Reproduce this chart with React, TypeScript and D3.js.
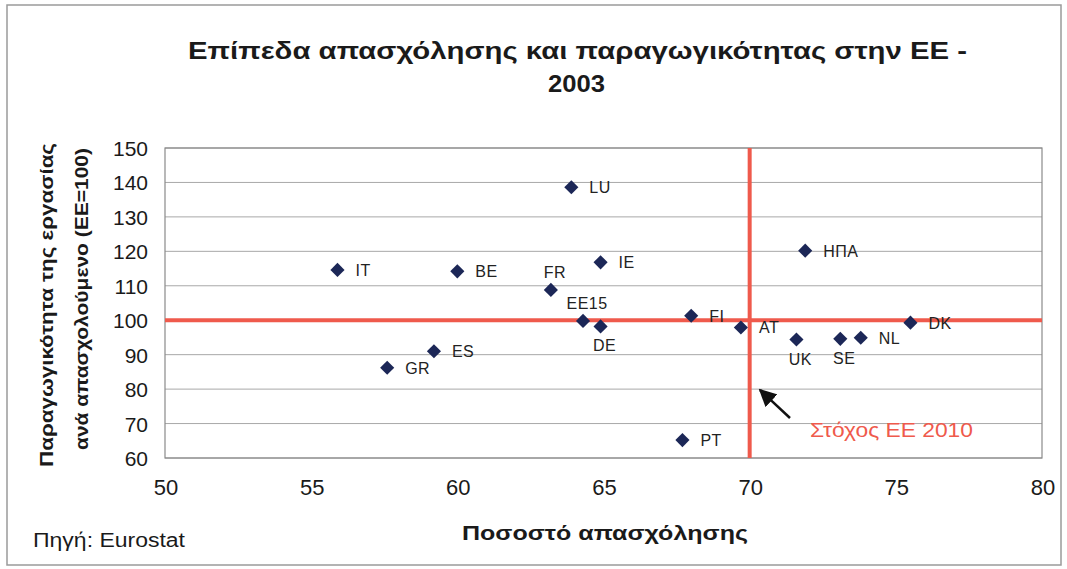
import React from "react";
import * as d3 from "d3";

const countries = ["IT", "BE", "FR", "LU", "IE", "EE15", "DE", "ES", "GR", "PT", "FI", "AT", "ΗΠΑ", "UK", "SE", "NL", "DK"];
const employment = [55.9, 60.0, 63.2, 63.9, 64.9, 64.3, 64.9, 59.2, 57.6, 67.7, 68.0, 69.7, 71.9, 71.6, 73.1, 73.8, 75.5];
const productivity = [114.6, 114.2, 108.8, 138.6, 116.8, 99.8, 98.2, 91.0, 86.2, 65.2, 101.3, 97.9, 120.2, 94.4, 94.6, 94.9, 99.3];
// label placement: r = right, t = top, b = bottom
const labelPos = ["r", "r", "t", "r", "r", "t", "b", "r", "r", "r", "r", "r", "r", "b", "b", "r", "r"];

const xTicks = [50, 55, 60, 65, 70, 75, 80];
const yTicks = [60, 70, 80, 90, 100, 110, 120, 130, 140, 150];
const targetX = 70;
const targetY = 100;

const font = "'Liberation Sans', Arial, sans-serif";
const red = "#ef5a4c";
const navy = "#1c2757";

const App = () => {
  const W = 1067;
  const H = 569;
  const x = d3.scaleLinear().domain([50, 80]).range([165, 1042]);
  const y = d3.scaleLinear().domain([60, 150]).range([458, 148]);
  // square rotated 45deg, like Excel's diamond marker
  const diamond = d3.symbol().type(d3.symbolSquare).size(100)();
  const stretch = "spacingAndGlyphs";

  return (
    <svg width={W} height={H} style={{ position: "absolute", left: 0, top: 0, background: "#fff" }}>
      <rect x={7} y={5} width={1054} height={560} fill="none" stroke="#9a9a9a" strokeWidth={1.5} />
      <text x={188} y={59} textLength={779} lengthAdjust={stretch} fontFamily={font} fontWeight="bold" fontSize={23} fill="#1a1a1a">
        Επίπεδα απασχόλησης και παραγωγικότητας στην ΕΕ -
      </text>
      <text x={548} y={92} textLength={57} lengthAdjust={stretch} fontFamily={font} fontWeight="bold" fontSize={23} fill="#1a1a1a">
        2003
      </text>

      {yTicks.map((t) => (
        <line key={t} x1={x(50)} x2={x(80)} y1={y(t)} y2={y(t)} stroke="#a8a8a8" strokeWidth={1} />
      ))}
      <rect x={x(50)} y={y(150)} width={x(80) - x(50)} height={y(60) - y(150)} fill="none" stroke="#8a8a8a" strokeWidth={1.2} />

      {yTicks.map((t) => (
        <text key={t} x={148} y={y(t) + 8} textAnchor="end" fontFamily={font} fontSize={21} fill="#1a1a1a">
          {t}
        </text>
      ))}
      {xTicks.map((t) => (
        <text key={t} x={x(t) + 1} y={495} textAnchor="middle" fontFamily={font} fontSize={22} fill="#1a1a1a">
          {t}
        </text>
      ))}

      <line x1={x(50)} x2={x(80)} y1={y(targetY)} y2={y(targetY)} stroke={red} strokeWidth={4} />
      <line x1={x(targetX)} x2={x(targetX)} y1={y(150)} y2={y(60)} stroke={red} strokeWidth={4} />

      {countries.map((c, i) => {
        const cx = x(employment[i]);
        const cy = y(productivity[i]);
        const p = labelPos[i];
        const lx = p === "r" ? cx + 18 : cx + 4;
        const ly = p === "t" ? cy - 12 : p === "b" ? cy + 25 : cy + 6;
        return (
          <g key={c}>
            <path d={diamond} transform={`translate(${cx},${cy}) rotate(45)`} fill={navy} />
            <text x={lx} y={ly} textAnchor={p === "r" ? "start" : "middle"} fontFamily={font} fontSize={16} letterSpacing={0.5} fill="#222">
              {c}
            </text>
          </g>
        );
      })}

      <defs>
        <marker id="arr" viewBox="0 0 10 10" refX={9} refY={5} markerWidth={7} markerHeight={7} orient="auto">
          <path d="M0,0 L10,5 L0,10 z" fill="#111" />
        </marker>
      </defs>
      <line x1={790} y1={418} x2={760} y2={390} stroke="#111" strokeWidth={2.5} markerEnd="url(#arr)" />
      <text x={810} y={437} textLength={163} lengthAdjust={stretch} fontFamily={font} fontSize={21} fill={red}>
        Στόχος ΕΕ 2010
      </text>

      <text transform={`translate(53,305) rotate(-90)`} x={-162} textLength={324} lengthAdjust={stretch} fontFamily={font} fontWeight="bold" fontSize={19} fill="#1a1a1a">
        Παραγωγικότητα της εργασίας
      </text>
      <text transform={`translate(88,299) rotate(-90)`} x={-151} textLength={302} lengthAdjust={stretch} fontFamily={font} fontWeight="bold" fontSize={19} fill="#1a1a1a">
        ανά απασχολούμενο (ΕΕ=100)
      </text>
      <text x={462} y={540} textLength={286} lengthAdjust={stretch} fontFamily={font} fontWeight="bold" fontSize={21} fill="#1a1a1a">
        Ποσοστό απασχόλησης
      </text>
      <text x={33} y={547} textLength={152} lengthAdjust={stretch} fontFamily={font} fontSize={20} fill="#1a1a1a">
        Πηγή: Eurostat
      </text>
    </svg>
  );
};

export default App;
